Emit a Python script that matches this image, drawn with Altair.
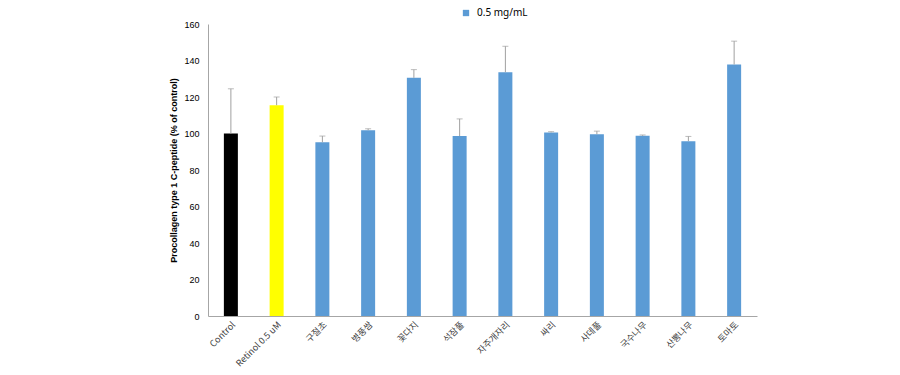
import altair as alt
import pandas as pd

categories = ["Control", "Retinol 0.5 uM", "구절초", "병풍쌈", "꽃다지", "석잠풀",
              "자주개자리", "싸리", "사데풀", "국수나무", "산뽕나무", "토마토"]
values = [100, 115.5, 95.2, 101.8, 130.5, 98.6, 133.6, 100.6, 99.6, 98.7, 95.8, 137.8]
err_top = [124.5, 120.0, 98.6, 102.6, 135.0, 108.0, 147.8, 101.0, 101.3, 99.2, 98.4, 150.6]
series = ["Control", "Retinol"] + ["0.5 mg/mL"] * 10
y_ticks = [0, 20, 40, 60, 80, 100, 120, 140, 160]

df = pd.DataFrame({"cat": categories, "val": values, "err": err_top, "series": series})

x = alt.X("cat:N", sort=categories, title=None,
          scale=alt.Scale(paddingInner=0.0, paddingOuter=0.0),
          axis=alt.Axis(labelAngle=-45, labelAlign="right", labelBaseline="top",
                        labelFont="Noto Sans CJK KR", labelFontSize=9, labelColor="#404040",
                        ticks=False, domainColor="#a6a6a6", labelPadding=4,
                        labelOverlap=False, labelLimit=200))
y = alt.Y("val:Q", title="Procollagen type 1 C-peptide (% of control)",
          scale=alt.Scale(domain=[0, 160], nice=False, zero=True),
          axis=alt.Axis(values=y_ticks, tickCount=9, grid=False, ticks=False,
                        labelOverlap=False, labelSeparation=0, labelBound=False,
                        domainColor="#a6a6a6", labelFont="Liberation Sans", labelFontSize=9,
                        labelColor="#000000", titleFont="Liberation Sans", titleFontSize=9,
                        titleFontWeight="bold", titleColor="#000000", labelPadding=9,
                        titlePadding=5))

bars = alt.Chart(df).mark_bar(size=14).encode(
    x=x, y=y,
    color=alt.Color("series:N",
                    scale=alt.Scale(domain=["0.5 mg/mL", "Control", "Retinol"],
                                    range=["#5b9bd5", "#000000", "#ffff00"]),
                    legend=alt.Legend(title=None, values=["0.5 mg/mL"], orient="none",
                                      legendX=253, legendY=-16, symbolType="square",
                                      symbolSize=40, labelFont="Noto Sans", labelFontSize=10,
                                      labelColor="#000000", symbolStrokeWidth=0,
                                      labelOffset=6)),
)

rules = alt.Chart(df).mark_rule(color="#a0a0a0", strokeWidth=1).encode(
    x=x, y=y, y2="err:Q")
caps = alt.Chart(df).mark_tick(color="#a0a0a0", thickness=1, size=6, orient="horizontal").encode(
    x=x, y=alt.Y("err:Q"))

chart = alt.layer(bars, rules, caps).properties(
    width=549, height=292,
    autosize=alt.AutoSizeParams(type="none"),
    padding={"left": 200, "top": 16, "right": 135, "bottom": 59},
).configure_view(stroke=None)

chart.save("out.html", embed_options={"renderer": "svg", "actions": False})
